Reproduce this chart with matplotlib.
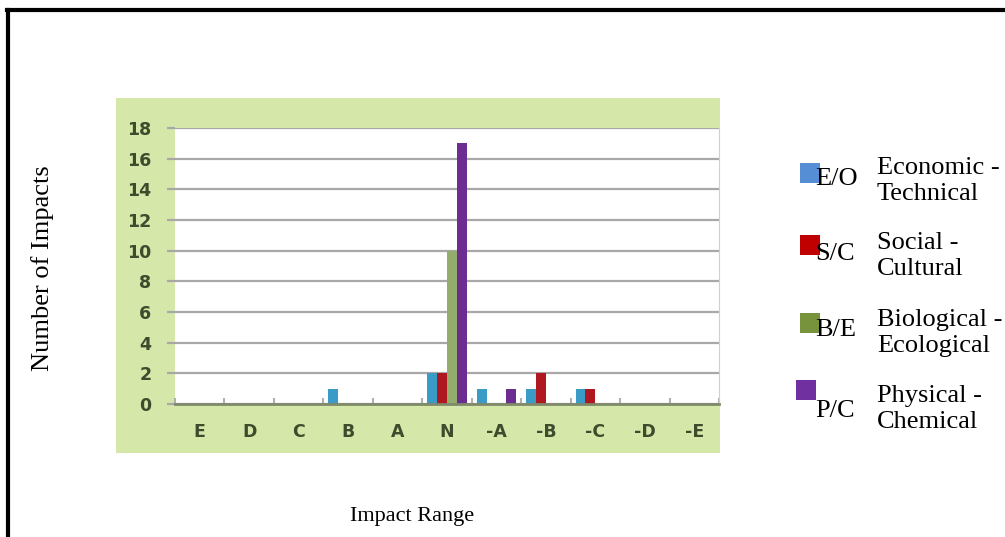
import matplotlib
matplotlib.use("Agg")
import matplotlib.pyplot as plt
from matplotlib.patches import Rectangle
from matplotlib.lines import Line2D
import numpy as np

categories = ["E", "D", "C", "B", "A", "N", "-A", "-B", "-C", "-D", "-E"]
series_codes = ["E/O", "S/C", "B/E", "P/C"]
series_names = ["Economic -\nTechnical", "Social -\nCultural", "Biological -\nEcological", "Physical -\nChemical"]
eo_values = [0, 0, 0, 1, 0, 2, 1, 1, 1, 0, 0]
sc_values = [0, 0, 0, 0, 0, 2, 0, 2, 1, 0, 0]
be_values = [0, 0, 0, 0, 0, 10, 0, 0, 0, 0, 0]
pc_values = [0, 0, 0, 0, 0, 17, 1, 0, 0, 0, 0]
y_ticks = [0, 2, 4, 6, 8, 10, 12, 14, 16, 18]

bar_colors = ["#3a9cc6", "#b01820", "#93ad6c", "#6b2d8f"]
legend_colors = ["#558ed5", "#c00000", "#77933c", "#7030a0"]

W, H = 1005, 537
fig = plt.figure(figsize=(W / 100, H / 100), dpi=100)
fig.patch.set_facecolor("white")

def fx(px):
    return px / W

def fy(py):
    return 1 - py / H

# green chart panel
fig.patches.append(Rectangle((fx(116), fy(453)), fx(720) - fx(116), fy(98) - fy(453),
                             transform=fig.transFigure, facecolor="#d6e8a9", edgecolor="none", zorder=-10))

# outer frame (top and left)
fig.add_artist(Line2D([fx(7), 1.0], [fy(10), fy(10)], transform=fig.transFigure, color="black", lw=3))
fig.add_artist(Line2D([fx(8), fx(8)], [fy(10), 0.0], transform=fig.transFigure, color="black", lw=3))

ax = fig.add_axes([fx(175), fy(404), fx(719) - fx(175), fy(128) - fy(404)])
ax.set_zorder(1)
ax.set_facecolor("white")

x = np.arange(len(categories))
bw = 0.2
all_vals = [eo_values, sc_values, be_values, pc_values]
for i, (vals, col) in enumerate(zip(all_vals, bar_colors)):
    ax.bar(x + (i - 1.5) * bw, vals, width=bw, color=col, linewidth=0, zorder=3)

ax.set_xlim(-0.5, len(categories) - 0.5)
ax.set_ylim(0, 18)
ax.set_yticks(y_ticks)
ax.set_xticks(x)
ax.set_xticklabels(categories)
ax.grid(axis="y", color="#a8a8a8", lw=1.6, zorder=1)
for s in ["top", "left"]:
    ax.spines[s].set_visible(False)
ax.spines["right"].set_color("#d0d0d0")
ax.spines["bottom"].set_color("#7f8a6a")
ax.spines["bottom"].set_linewidth(2)
ax.spines["bottom"].set_zorder(4)

ax.set_xticks(np.arange(-0.5, len(categories) - 0.4, 1), minor=True)
ax.tick_params(axis="x", which="minor", direction="in", length=4, color="#b0b0b0", width=1.5)
ax.tick_params(axis="x", which="major", length=0, pad=14)
ax.tick_params(axis="y", which="major", length=6, color="#a8a8a8", width=1.6, pad=11)
for lab in ax.get_xticklabels() + ax.get_yticklabels():
    lab.set_fontfamily("DejaVu Sans")
    lab.set_fontweight("bold")
    lab.set_fontsize(12.5)
    lab.set_color("#3e4b2d")

serif = "Liberation Serif"
fig.text(fx(43), fy(268), "Number of Impacts", rotation=90, ha="center", va="center",
         fontsize=19, family=serif)
fig.text(fx(412), fy(517), "Impact Range", ha="center", va="center", fontsize=16, family=serif)

# legend
sq_pos = [(800, 163), (800, 235), (800, 313), (796, 380)]
code_y = [179, 254, 330, 411]
name_y = [181, 256, 333, 409]
for (sx, sy), col, code, name, cy, ny in zip(sq_pos, legend_colors, series_codes, series_names, code_y, name_y):
    fig.patches.append(Rectangle((fx(sx), fy(sy + 20)), fx(20), 20 / H, transform=fig.transFigure,
                                 facecolor=col, edgecolor="none"))
    fig.text(fx(815), fy(cy), code, ha="left", va="center", fontsize=19, family=serif)
    fig.text(fx(877), fy(ny), name, ha="left", va="center", fontsize=19, family=serif,
             linespacing=1.23)

fig.savefig("out.png", dpi=100)
